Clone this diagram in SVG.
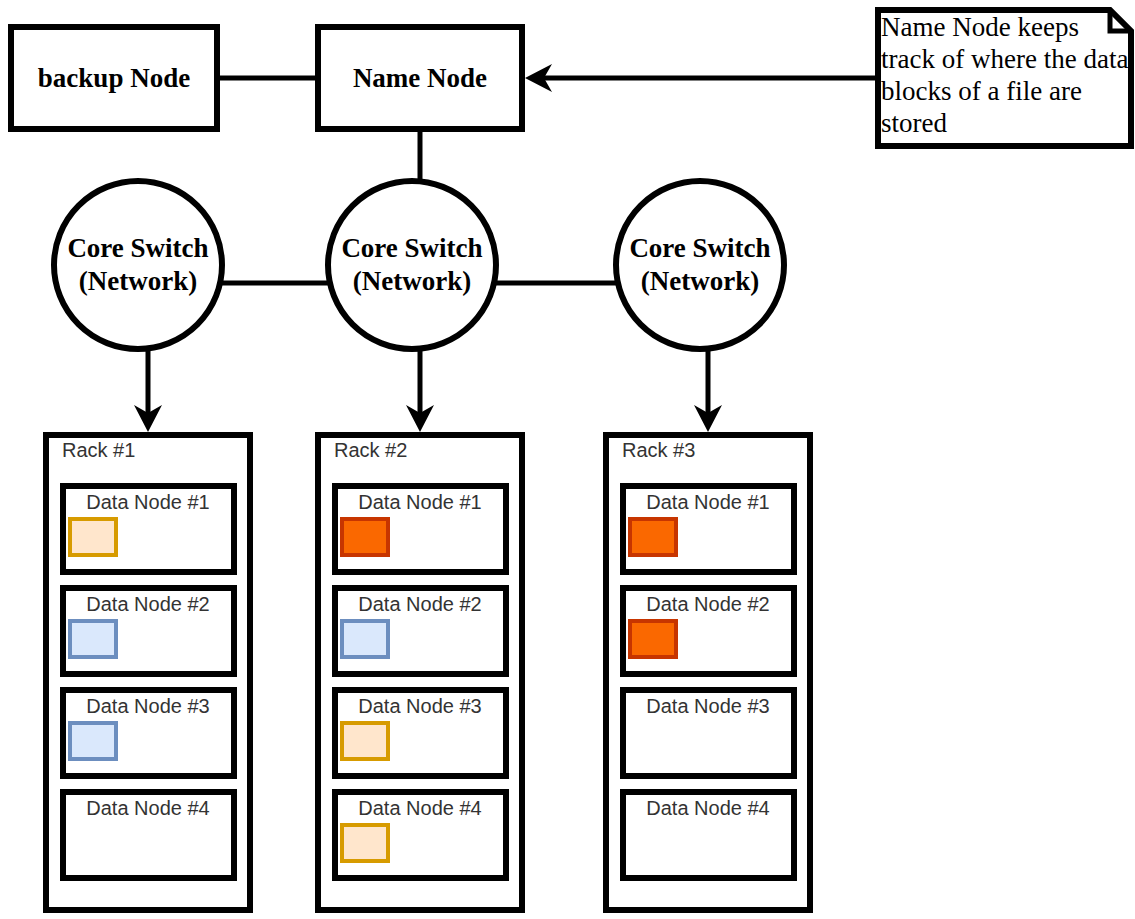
<svg xmlns="http://www.w3.org/2000/svg" width="1135" height="919" viewBox="0 0 1135 919">
  <style>
    .box { fill: #ffffff; stroke: #000000; stroke-width: 6; }
    .edge { fill: none; stroke: #000000; stroke-width: 5; }
    .serif { font-family: "Liberation Serif", "Times New Roman", serif; font-size: 27px; fill: #000000; }
    .bold { font-weight: bold; }
    .sans { font-family: "Liberation Sans", Arial, sans-serif; font-size: 20px; fill: #333333; }
    .peach { fill: #ffe6cc; stroke: #d79b00; stroke-width: 4; }
    .blue { fill: #dae8fc; stroke: #6c8ebf; stroke-width: 4; }
    .orange { fill: #fa6800; stroke: #c73500; stroke-width: 4; }
  </style>
  <defs>
    <marker id="arrow" markerUnits="userSpaceOnUse" viewBox="0 0 28 30" refX="8" refY="15" markerWidth="28" markerHeight="30" orient="auto">
      <path d="M0,1 L27,15 L0,29 L8,15 Z" fill="#000000"/>
    </marker>
  </defs>

  <rect width="1135" height="919" fill="#ffffff"/>

  <!-- connectors -->
  <g id="connectors">
    <line class="edge" x1="217" y1="78" x2="318" y2="78"/>
    <line class="edge" x1="878" y1="78" x2="544" y2="78" marker-end="url(#arrow)"/>
    <line class="edge" x1="420" y1="129" x2="420" y2="181"/>
    <line class="edge" x1="222" y1="283" x2="328" y2="283"/>
    <line class="edge" x1="496" y1="283" x2="616" y2="283"/>
    <line class="edge" x1="148" y1="349" x2="148" y2="413" marker-end="url(#arrow)"/>
    <line class="edge" x1="420" y1="349" x2="420" y2="413" marker-end="url(#arrow)"/>
    <line class="edge" x1="708" y1="349" x2="708" y2="413" marker-end="url(#arrow)"/>
  </g>

  <!-- top row -->
  <g id="backup-node">
    <rect class="box" x="11" y="27" width="206" height="102"/>
    <text class="serif bold" x="114" y="87" text-anchor="middle">backup Node</text>
  </g>
  <g id="name-node">
    <rect class="box" x="318" y="27" width="204" height="102"/>
    <text class="serif bold" x="420" y="87" text-anchor="middle">Name Node</text>
  </g>
  <g id="note">
    <path class="box" stroke-width="5" d="M878,10 L1110,10 L1131,31 L1131,146 L878,146 Z"/>
    <path class="edge" d="M1110,10 L1110,31 L1131,31"/>
    <text class="serif">
      <tspan x="881" y="36">Name Node keeps</tspan>
      <tspan x="881" y="68">track of where the data</tspan>
      <tspan x="881" y="100">blocks of a file are</tspan>
      <tspan x="881" y="132">stored</tspan>
    </text>
  </g>

  <!-- switches -->
  <g id="switch-1">
    <circle class="box" cx="138" cy="265" r="84"/>
    <text class="serif bold" x="138" y="257" text-anchor="middle">Core Switch</text>
    <text class="serif bold" x="138" y="290" text-anchor="middle">(Network)</text>
  </g>
  <g id="switch-2">
    <circle class="box" cx="412" cy="265" r="84"/>
    <text class="serif bold" x="412" y="257" text-anchor="middle">Core Switch</text>
    <text class="serif bold" x="412" y="290" text-anchor="middle">(Network)</text>
  </g>
  <g id="switch-3">
    <circle class="box" cx="700" cy="265" r="84"/>
    <text class="serif bold" x="700" y="257" text-anchor="middle">Core Switch</text>
    <text class="serif bold" x="700" y="290" text-anchor="middle">(Network)</text>
  </g>

  <!-- rack 1 -->
  <g id="rack-1">
    <rect class="box" x="46" y="435" width="204" height="475"/>
    <text class="sans" x="62" y="457">Rack #1</text>
    <g id="rack-1-dn-1">
      <rect class="box" x="63" y="486" width="171" height="86"/>
      <text class="sans" x="148" y="509" text-anchor="middle">Data Node #1</text>
      <rect class="peach" x="70" y="519" width="46" height="36"/>
    </g>
    <g id="rack-1-dn-2">
      <rect class="box" x="63" y="588" width="171" height="86"/>
      <text class="sans" x="148" y="611" text-anchor="middle">Data Node #2</text>
      <rect class="blue" x="70" y="621" width="46" height="36"/>
    </g>
    <g id="rack-1-dn-3">
      <rect class="box" x="63" y="690" width="171" height="86"/>
      <text class="sans" x="148" y="713" text-anchor="middle">Data Node #3</text>
      <rect class="blue" x="70" y="723" width="46" height="36"/>
    </g>
    <g id="rack-1-dn-4">
      <rect class="box" x="63" y="792" width="171" height="86"/>
      <text class="sans" x="148" y="815" text-anchor="middle">Data Node #4</text>
    </g>
  </g>

  <!-- rack 2 -->
  <g id="rack-2">
    <rect class="box" x="318" y="435" width="204" height="475"/>
    <text class="sans" x="334" y="457">Rack #2</text>
    <g id="rack-2-dn-1">
      <rect class="box" x="335" y="486" width="171" height="86"/>
      <text class="sans" x="420" y="509" text-anchor="middle">Data Node #1</text>
      <rect class="orange" x="342" y="519" width="46" height="36"/>
    </g>
    <g id="rack-2-dn-2">
      <rect class="box" x="335" y="588" width="171" height="86"/>
      <text class="sans" x="420" y="611" text-anchor="middle">Data Node #2</text>
      <rect class="blue" x="342" y="621" width="46" height="36"/>
    </g>
    <g id="rack-2-dn-3">
      <rect class="box" x="335" y="690" width="171" height="86"/>
      <text class="sans" x="420" y="713" text-anchor="middle">Data Node #3</text>
      <rect class="peach" x="342" y="723" width="46" height="36"/>
    </g>
    <g id="rack-2-dn-4">
      <rect class="box" x="335" y="792" width="171" height="86"/>
      <text class="sans" x="420" y="815" text-anchor="middle">Data Node #4</text>
      <rect class="peach" x="342" y="825" width="46" height="36"/>
    </g>
  </g>

  <!-- rack 3 -->
  <g id="rack-3">
    <rect class="box" x="606" y="435" width="204" height="475"/>
    <text class="sans" x="622" y="457">Rack #3</text>
    <g id="rack-3-dn-1">
      <rect class="box" x="623" y="486" width="171" height="86"/>
      <text class="sans" x="708" y="509" text-anchor="middle">Data Node #1</text>
      <rect class="orange" x="630" y="519" width="46" height="36"/>
    </g>
    <g id="rack-3-dn-2">
      <rect class="box" x="623" y="588" width="171" height="86"/>
      <text class="sans" x="708" y="611" text-anchor="middle">Data Node #2</text>
      <rect class="orange" x="630" y="621" width="46" height="36"/>
    </g>
    <g id="rack-3-dn-3">
      <rect class="box" x="623" y="690" width="171" height="86"/>
      <text class="sans" x="708" y="713" text-anchor="middle">Data Node #3</text>
    </g>
    <g id="rack-3-dn-4">
      <rect class="box" x="623" y="792" width="171" height="86"/>
      <text class="sans" x="708" y="815" text-anchor="middle">Data Node #4</text>
    </g>
  </g>
</svg>
